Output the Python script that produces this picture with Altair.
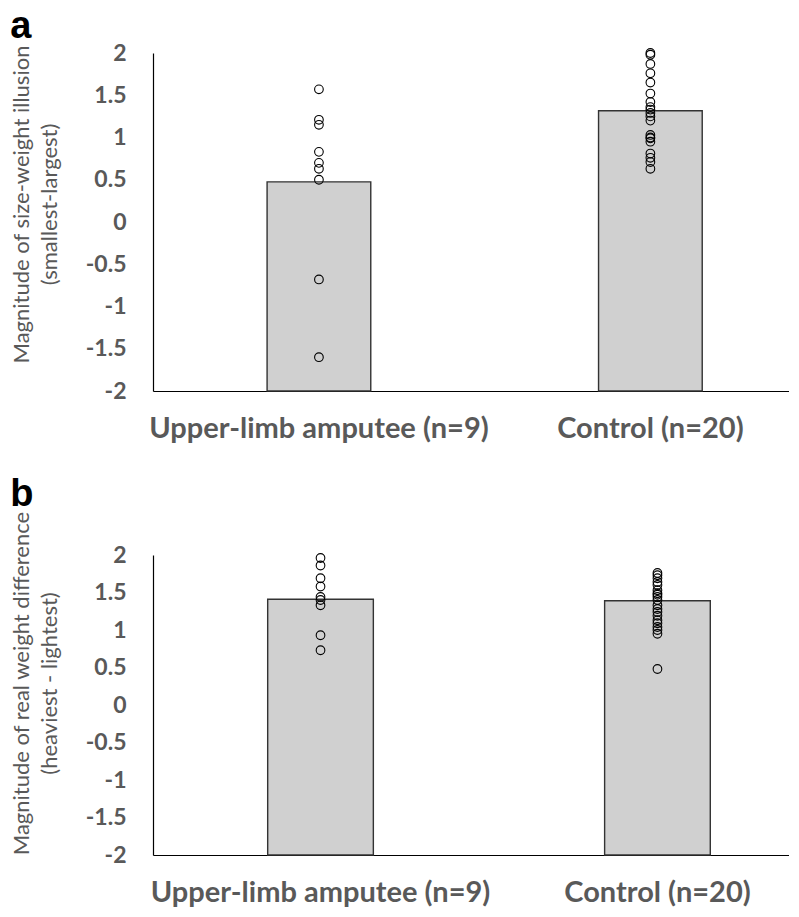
import altair as alt
import pandas as pd

categories = ["Upper-limb amputee (n=9)", "Control (n=20)"]
y_ticks = [-2, -1.5, -1, -0.5, 0, 0.5, 1, 1.5, 2]

# Panel a: size-weight illusion
means_a = [0.475, 1.317]
amputee_a = [1.57, 1.21, 1.15, 0.83, 0.70, 0.63, 0.50, -0.68, -1.60]
control_a = [2.00, 1.98, 1.87, 1.76, 1.65, 1.52, 1.42, 1.36, 1.33, 1.29,
             1.25, 1.20, 1.03, 1.00, 0.99, 0.95, 0.81, 0.76, 0.71, 0.63]

# Panel b: real weight difference
means_b = [1.41, 1.39]
amputee_b = [1.96, 1.86, 1.69, 1.58, 1.44, 1.40, 1.33, 0.93, 0.73]
control_b = [1.76, 1.73, 1.69, 1.64, 1.60, 1.53, 1.49, 1.47, 1.44, 1.40,
             1.33, 1.28, 1.24, 1.19, 1.13, 1.09, 1.04, 1.00, 0.95, 0.48]

GRAY = "#595959"
LFONT = "Lato"


def panel(means, amp, ctl, letter, ytitle, height, scale_opts, title_y, title_offset):
    bars = pd.DataFrame({"group": categories, "mean": means})
    pts = pd.DataFrame({
        "group": [categories[0]] * len(amp) + [categories[1]] * len(ctl),
        "value": amp + ctl,
    })
    x = alt.X(
        "group:N", sort=categories,
        scale=alt.Scale(**scale_opts),
        axis=alt.Axis(title=None, labelAngle=0, ticks=False, labelLimit=0,
                      labelFont=LFONT, labelFontSize=29, labelFontWeight="bold",
                      labelColor=GRAY, labelPadding=23, domainColor="black",
                      domainWidth=1.2),
    )
    yscale = alt.Scale(domain=[y_ticks[0], y_ticks[-1]], nice=False, zero=False)
    yaxis = alt.Axis(values=y_ticks, tickCount=len(y_ticks),
                     labelExpr="toString(datum.value)",
                     title=ytitle, ticks=False, grid=False, labelPadding=27,
                     labelOverlap=False, labelFont=LFONT, labelFontSize=23,
                     labelFontWeight="bold", labelColor=GRAY,
                     titleFont=LFONT, titleFontSize=22,
                     titleFontWeight="normal", titleColor=GRAY,
                     titleLineHeight=28, titlePadding=24, titleY=title_y,
                     domainColor="black", domainWidth=1.2)
    bar = alt.Chart(bars).mark_bar(
        color="#d0d0d0", stroke="#333333", strokeWidth=1.4
    ).encode(
        x=x,
        y=alt.Y("mean:Q", scale=yscale, axis=yaxis),
        y2=alt.datum(y_ticks[0]),
    )
    pt = alt.Chart(pts).mark_point(
        shape="circle", filled=False, color="black", size=75, strokeWidth=1.1,
        opacity=1
    ).encode(
        x=x,
        y=alt.Y("value:Q", scale=yscale, axis=yaxis),
    )
    return alt.layer(bar, pt).properties(
        width=636, height=height,
        title=alt.TitleParams(letter, anchor="start", frame="bounds",
                              font="Liberation Sans", fontSize=38,
                              fontWeight="bold", color="black",
                              offset=title_offset),
    )


pa = panel(means_a, amputee_a, control_a, "a",
           ["Magnitude of size-weight illusion", "(smallest-largest)"], 338,
           dict(paddingInner=0.6872, paddingOuter=0.303, align=0.568), 151, -4)
pb = panel(means_b, amputee_b, control_b, "b",
           ["Magnitude of real weight difference", "(heaviest - lightest)"], 300,
           dict(paddingInner=0.6864, paddingOuter=0.287, align=0.593), 128, -3)

chart = alt.vconcat(pa, pb, spacing=32).properties(
    padding={"left": 2, "top": 0, "right": 0, "bottom": 0}
).configure_view(stroke=None)

chart.save("out.html", embed_options={"renderer": "svg", "actions": False})
